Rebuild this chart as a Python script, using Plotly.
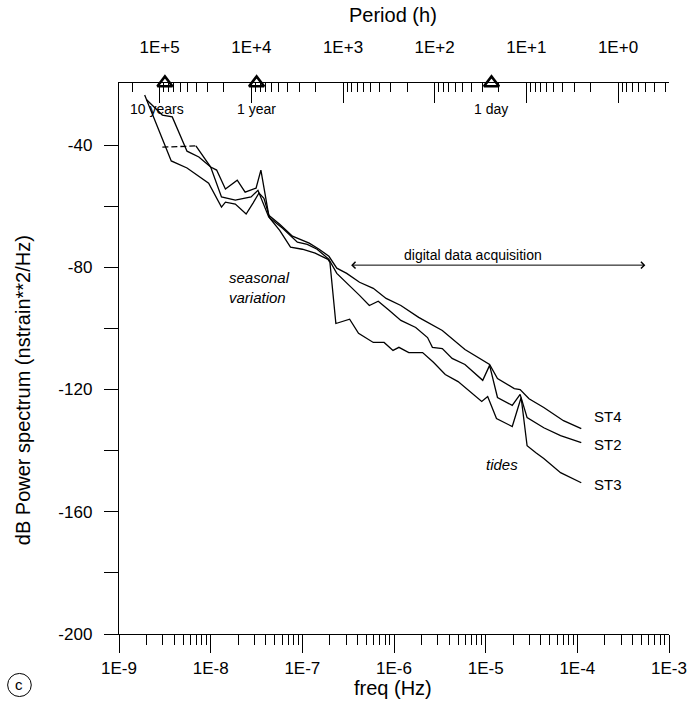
import numpy as np
import plotly.graph_objects as go

# ---------------- data ----------------
# log10 of frequency (Hz) and power (dB)
st4_logf = [-8.699, -8.527, -8.419, -8.258, -8.129, -8.000, -7.935, -7.839, -7.710, -7.624,
            -7.505, -7.452, -7.366, -7.247, -7.108, -7.000, -6.925, -6.817, -6.710, -6.624,
            -6.516, -6.376, -6.226, -6.086, -5.925, -5.731, -5.473, -5.226, -4.957, -4.871,
            -4.688, -4.624, -4.527, -4.366, -4.151, -3.957]
st4_db = [-25.2, -30.2, -30.8, -42.0, -43.9, -47.2, -48.2, -54.4, -51.5, -55.4,
          -54.1, -48.2, -63.0, -65.9, -69.8, -71.1, -72.1, -74.1, -76.4, -80.3,
          -82.0, -84.9, -86.9, -90.2, -92.5, -96.4, -100.7, -106.9, -111.8, -116.4,
          -119.7, -120.0, -123.0, -125.9, -130.2, -132.8]

st2_logf = [-8.527, -8.161, -8.000, -7.882, -7.731, -7.559, -7.484, -7.366, -7.215, -7.054,
            -6.946, -6.839, -6.710, -6.624, -6.484, -6.376, -6.269, -6.172, -6.054, -5.925,
            -5.763, -5.634, -5.581, -5.473, -5.366, -5.226, -5.032, -4.957, -4.871, -4.710,
            -4.624, -4.548, -4.366, -4.183, -3.957]
st2_db = [-40.7, -40.3, -47.2, -57.0, -58.0, -57.0, -54.8, -63.6, -67.2, -71.8,
          -72.5, -74.1, -77.4, -82.0, -85.9, -89.2, -92.5, -91.1, -94.1, -97.4,
          -99.7, -103.0, -106.2, -106.6, -109.8, -111.8, -117.0, -112.1, -122.6, -125.2,
          -121.6, -129.2, -132.5, -135.1, -137.4]

st3_logf = [-8.720, -8.430, -8.258, -8.022, -7.882, -7.839, -7.731, -7.613, -7.538, -7.473,
            -7.419, -7.355, -7.247, -7.129, -7.000, -6.860, -6.720, -6.699, -6.634, -6.484,
            -6.387, -6.301, -6.226, -6.108, -6.011, -5.946, -5.839, -5.688, -5.570, -5.441,
            -5.301, -5.043, -4.978, -4.882, -4.710, -4.613, -4.548, -4.452, -4.366, -4.183,
            -3.957]
st3_db = [-23.6, -45.2, -47.5, -52.5, -60.3, -58.7, -59.3, -62.6, -59.0, -55.7,
          -57.4, -63.9, -67.9, -73.4, -74.1, -75.4, -77.4, -78.4, -98.4, -97.0,
          -101.6, -103.3, -104.6, -104.6, -107.2, -106.2, -107.9, -107.9, -111.1, -115.1,
          -117.4, -123.9, -122.3, -129.5, -132.1, -122.6, -138.4, -140.7, -142.6, -147.2,
          -150.5]

series_names = ["ST4", "ST2", "ST3"]
label_db = [-128.9, -138.0, -151.1]

event_periods_h = [87660, 8766, 24]
event_labels = ["10 years", "1 year", "1 day"]

freq_tickvals = [1e-9, 1e-8, 1e-7, 1e-6, 1e-5, 1e-4, 1e-3]
freq_ticktext = ["1E-9", "1E-8", "1E-7", "1E-6", "1E-5", "1E-4", "1E-3"]
period_tickvals = [1e5, 1e4, 1e3, 1e2, 1e1, 1e0]
period_ticktext = ["1E+5", "1E+4", "1E+3", "1E+2", "1E+1", "1E+0"]
db_tickvals = [-200, -160, -120, -80, -40]
db_ticktext = ["-200", "-160", "-120", "-80", "-40"]
db_minor = [-180, -140, -100, -60]

# ---------------- figure ----------------
FONT = "Liberation Sans, Arial, sans-serif"
X_RANGE = [-9, -3]
Y_RANGE = [-200, -19.7]
P_RANGE = [float(np.log10(1 / (3600 * 10 ** X_RANGE[0]))), float(np.log10(1 / (3600 * 10 ** X_RANGE[1])))]

LINE = dict(color="black", width=1.3)

fig = go.Figure()

f4 = 10 ** np.array(st4_logf)
f2 = 10 ** np.array(st2_logf)
f3 = 10 ** np.array(st3_logf)

fig.add_trace(go.Scatter(x=f4, y=st4_db, mode="lines", line=LINE, name="ST4"))
# ST2: first segment dashed
fig.add_trace(go.Scatter(x=f2[:2], y=st2_db[:2], mode="lines",
                         line=dict(color="black", width=1.3, dash="6px,3px"), name="ST2a"))
fig.add_trace(go.Scatter(x=f2[1:], y=st2_db[1:], mode="lines", line=LINE, name="ST2"))
fig.add_trace(go.Scatter(x=f3, y=st3_db, mode="lines", line=LINE, name="ST3"))

# event triangles on the period axis
fig.add_trace(go.Scatter(x=event_periods_h, y=[Y_RANGE[1]] * len(event_periods_h),
                         xaxis="x2", yaxis="y", mode="markers", cliponaxis=False,
                         marker=dict(symbol="triangle-up-open", size=13, color="black",
                                     line=dict(color="black", width=2.6))))

# series labels
for name, yv in zip(series_names, label_db):
    fig.add_annotation(x=-3.839, y=yv, xref="x", yref="y", text=name, showarrow=False,
                       xanchor="left", yanchor="middle", font=dict(size=15, family=FONT))

# event labels under the top axis
xshifts = [-8, 0, 0]
for p, lab, xs in zip(event_periods_h, event_labels, xshifts):
    fig.add_annotation(x=float(np.log10(p)), y=1, xref="x2", yref="paper", text=lab,
                       showarrow=False, xanchor="center", yanchor="middle", yshift=-26,
                       xshift=xs, font=dict(size=14, family=FONT))

# text annotations
fig.add_annotation(x=-7.817, y=-86.6, xref="x", yref="y", text="<i>seasonal<br>variation</i>",
                   showarrow=False, xanchor="left", yanchor="middle", align="left",
                   font=dict(size=15, family=FONT))
fig.add_annotation(x=-4.817, y=-144.6, xref="x", yref="y", text="<i>tides</i>",
                   showarrow=False, xanchor="center", yanchor="middle", font=dict(size=15, family=FONT))
fig.add_annotation(x=-5.140, y=-76.1, xref="x", yref="y", text="digital data acquisition",
                   showarrow=False, xanchor="center", yanchor="middle", font=dict(size=14, family=FONT))
# double arrow
fig.add_annotation(x=-3.258, y=-79.3, ax=-6.484, ay=-79.3, xref="x", yref="y", axref="x", ayref="y",
                   text="", showarrow=True, arrowside="end+start", arrowhead=4, arrowsize=1.3,
                   arrowwidth=1, arrowcolor="black")

# titles
fig.add_annotation(x=0.498, y=1.1234, xref="paper", yref="paper", text="Period (h)", showarrow=False,
                   xanchor="center", yanchor="middle", font=dict(size=20, family=FONT))
fig.add_annotation(x=0.498, y=-0.098, xref="paper", yref="paper", text="freq (Hz)", showarrow=False,
                   xanchor="center", yanchor="middle", font=dict(size=20, family=FONT))
fig.add_annotation(x=-0.174, y=0.443, xref="paper", yref="paper",
                   text="dB Power spectrum (nstrain**2/Hz)", showarrow=False, textangle=-90,
                   xanchor="center", yanchor="middle", font=dict(size=20, family=FONT))
# panel letter
fig.add_annotation(x=-0.181, y=-0.0925, xref="paper", yref="paper", text="c", showarrow=False,
                   xanchor="center", yanchor="middle", font=dict(size=15, family=FONT))
fig.add_shape(type="circle", xref="paper", yref="paper", x0=-0.2025, x1=-0.1595, y0=-0.1135, y1=-0.0716,
              line=dict(color="black", width=1))

# bottom axis: every decade and sub-decade tick, labels only on decades
all_freq_ticks = [k * 10.0 ** d for d in range(-9, -3) for k in range(1, 10)] + [freq_tickvals[-1]]
all_freq_text = [(freq_ticktext[freq_tickvals.index(v)] if v in freq_tickvals else "")
                 for v in all_freq_ticks]
minor_period = [k * 10.0 ** d for d in range(-1, 6) for k in range(2, 10)
                if 10 ** P_RANGE[1] <= k * 10.0 ** d <= 10 ** P_RANGE[0]]

fig.update_layout(
    width=699, height=705,
    margin=dict(l=119, r=22, t=83, b=71),
    paper_bgcolor="white", plot_bgcolor="white",
    showlegend=False,
    font=dict(family=FONT, color="black"),
    xaxis=dict(type="log", range=X_RANGE, tickmode="array", tickvals=all_freq_ticks, ticktext=all_freq_text,
               ticks="outside", ticklen=10, tickwidth=1.2, tickcolor="black",
               showline=True, linewidth=1.4, linecolor="black", showgrid=False, zeroline=False,
               tickfont=dict(size=17, family=FONT), ticklabelstandoff=8),
    # long decade ticks on an overlaid linear axis in log10 units
    xaxis3=dict(type="linear", range=X_RANGE, overlaying="x", side="bottom", anchor="y",
                tickmode="array", tickvals=[float(np.log10(v)) for v in freq_tickvals],
                showticklabels=False, ticks="outside", ticklen=18, tickwidth=1.2, tickcolor="black",
                showline=False, showgrid=False, zeroline=False),
    xaxis2=dict(type="log", range=P_RANGE, overlaying="x", side="top", anchor="y",
                tickvals=period_tickvals, ticktext=period_ticktext,
                ticks="inside", ticklen=20, tickwidth=1.2, tickcolor="black",
                showline=True, linewidth=1.4, linecolor="black", showgrid=False, zeroline=False,
                tickfont=dict(size=17, family=FONT), ticklabelstandoff=22,
                minor=dict(tickvals=minor_period, ticks="inside", ticklen=9, tickwidth=1.2,
                           tickcolor="black", showgrid=False)),
    yaxis=dict(range=Y_RANGE, tickvals=db_tickvals, ticktext=db_ticktext,
               ticks="outside", ticklen=14, tickwidth=1.2,
               tickcolor="black", showline=True, linewidth=1.4, linecolor="black",
               showgrid=False, zeroline=False, tickfont=dict(size=17, family=FONT),
               ticklabelstandoff=8,
               minor=dict(tickvals=db_minor, ticks="outside", ticklen=14, tickwidth=1.2,
                          tickcolor="black", showgrid=False)),
)

# an invisible trace so the overlaid tick axis is drawn
fig.add_trace(go.Scatter(x=[X_RANGE[0]], y=[Y_RANGE[0]], xaxis="x3", yaxis="y",
                         mode="markers", marker=dict(opacity=0), hoverinfo="skip"))

fig.write_html("out.html")
